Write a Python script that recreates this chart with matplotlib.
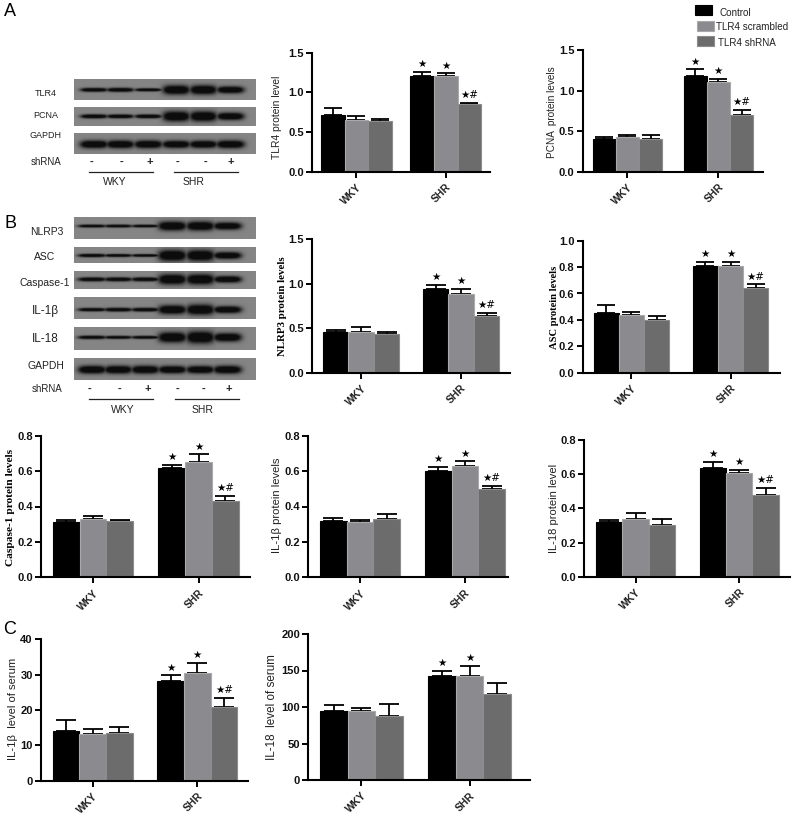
import numpy as np
import matplotlib
matplotlib.use('Agg')
import matplotlib.pyplot as plt
from matplotlib.lines import Line2D
from matplotlib.patches import Rectangle

W, H = 796, 815
plt.rcParams['font.family'] = ['Liberation Sans', 'DejaVu Sans']

groups = ['WKY', 'SHR']
series = ['Control', 'TLR4 scrambled', 'TLR4 shRNA']
colors = ['#000000', '#8b8b8f', '#6c6c6c']
edges = ['#000000', '#a9a9ab', '#8c8c8c']

# bar values, [WKY, SHR] x [control, scrambled, shRNA]
tlr4_vals = [[0.71, 0.65, 0.64], [1.21, 1.20, 0.85]]
tlr4_err = [[0.09, 0.05, 0.02], [0.05, 0.04, 0.02]]
pcna_vals = [[0.40, 0.43, 0.40], [1.18, 1.11, 0.70]]
pcna_err = [[0.03, 0.02, 0.05], [0.08, 0.03, 0.06]]
nlrp3_vals = [[0.46, 0.46, 0.43], [0.94, 0.88, 0.64]]
nlrp3_err = [[0.02, 0.05, 0.03], [0.05, 0.06, 0.03]]
asc_vals = [[0.45, 0.44, 0.40], [0.81, 0.81, 0.64]]
asc_err = [[0.06, 0.02, 0.03], [0.03, 0.03, 0.03]]
casp_vals = [[0.31, 0.33, 0.32], [0.62, 0.65, 0.43]]
casp_err = [[0.015, 0.015, 0.005], [0.015, 0.045, 0.03]]
il1b_vals = [[0.32, 0.31, 0.33], [0.60, 0.63, 0.50]]
il1b_err = [[0.015, 0.015, 0.03], [0.025, 0.025, 0.015]]
il18_vals = [[0.32, 0.335, 0.305], [0.635, 0.605, 0.48]]
il18_err = [[0.01, 0.035, 0.035], [0.035, 0.02, 0.04]]
il1b_serum_vals = [[14.2, 13.3, 13.4], [28.1, 30.4, 20.8]]
il1b_serum_err = [[3.0, 1.3, 1.8], [1.7, 2.9, 2.6]]
il18_serum_vals = [[94, 94, 88], [142, 143, 118]]
il18_serum_err = [[9, 5, 16], [7, 13, 15]]

marks = ['★', '★', '★#']
marks_short = ['★', '★', '']

# band strength per lane for the blots
blot_a = {'TLR4': [0.42, 0.44, 0.34, 1.0, 1.0, 0.75],
          'PCNA': [0.44, 0.42, 0.42, 1.1, 1.1, 0.80],
          'GAPDH': [0.85, 0.85, 0.85, 0.80, 0.80, 0.85]}
blot_b = {'NLRP3': [0.32, 0.32, 0.30, 1.0, 1.0, 0.80],
          'ASC': [0.36, 0.32, 0.30, 1.2, 1.2, 0.75],
          'Caspase-1': [0.42, 0.42, 0.42, 1.1, 1.1, 0.70],
          'IL-1β': [0.36, 0.40, 0.40, 0.95, 1.1, 0.75],
          'IL-18': [0.36, 0.32, 0.32, 1.1, 1.3, 0.90],
          'GAPDH': [0.85, 0.85, 0.85, 0.80, 0.80, 0.85]}
shrna_signs = ['-', '-', '+', '-', '-', '+']


def fx(px):
    return px / W


def fy(px):
    return 1 - px / H


def label(x, y, s, size=7, **kw):
    kw.setdefault('ha', 'center')
    kw.setdefault('va', 'center')
    return plt.figtext(fx(x), fy(y), s, fontsize=size, **kw)


def bar_panel(box, centers, bar_w, ymax, step, vals, errs, ylab, lab_xy, lab_size, stars, serif=False, fmt='%.1f'):
    left, right, top, bottom = box
    ax = fig.add_axes([fx(left), fy(bottom), fx(right - left), (bottom - top) / H])
    gap = (centers[1] - centers[0]) / bar_w
    for g in range(2):
        for i in range(3):
            x = g * gap + i - 1
            ax.bar(x, vals[g][i], width=1, color=colors[i], edgecolor=edges[i], linewidth=0.8, zorder=2)
            ax.errorbar(x, vals[g][i], yerr=[[0], [errs[g][i]]], color='black', lw=1.3, capsize=bar_w * 0.27,
                        capthick=1.3, zorder=1)
            if g == 1 and stars[i]:
                ax.annotate(stars[i], (x, vals[g][i] + errs[g][i]), xytext=(0, 2), textcoords='offset points',
                            ha='center', va='bottom', fontsize=7.5, family='DejaVu Sans', annotation_clip=False)
    ax.set_xlim((left - centers[0]) / bar_w, (right - centers[0]) / bar_w)
    ax.set_ylim(0, ymax)
    ax.set_xticks([0, gap])
    ax.set_xticklabels(groups, rotation=45, ha='right', rotation_mode='anchor', fontsize=7.5, fontweight='bold',
                       color='#222222')
    ticks = np.arange(0, ymax + step / 2, step)
    ax.set_yticks(ticks)
    ax.set_yticklabels([fmt % t for t in ticks], fontsize=8, fontweight='bold', color='#111111')
    ax.tick_params(axis='both', width=1.4, length=4.5, pad=1.5)
    ax.tick_params(axis='x', pad=3)
    for s in ['top', 'right']:
        ax.spines[s].set_visible(False)
    for s in ['left', 'bottom']:
        ax.spines[s].set_linewidth(1.5)
    if serif:
        ax.set_ylabel(ylab, family='Liberation Serif', fontweight='bold', fontsize=lab_size)
    else:
        ax.set_ylabel(ylab, fontsize=lab_size, color='#222222')
    # label coords give the right side of the rotated text, so push by half its height
    ax.yaxis.set_label_coords(fx(lab_xy[0] + 5), fy(lab_xy[1]), transform=fig.transFigure)
    return ax


def blot_strip(x0, x1, y0, y1, band_y, lanes, half_w, strengths, thick=4.5):
    ax = fig.add_axes([fx(x0), fy(y1), fx(x1 - x0), (y1 - y0) / H])
    xs = np.linspace(x0, x1, int((x1 - x0) * 2))
    ys = np.linspace(y0, y1, int((y1 - y0) * 2))
    xx, yy = np.meshgrid(xs, ys)
    ink = np.zeros_like(xx)
    for c, st in zip(lanes, strengths):
        h = thick * st
        ink = np.maximum(ink, np.exp(-((xx - c) / half_w) ** 4) * np.exp(-((yy - band_y) / h) ** 2))
    img = 0.52 - 0.47 * np.clip(ink * 1.5, 0, 1)
    ax.imshow(img, cmap='gray', vmin=0, vmax=1, aspect='auto', interpolation='bilinear')
    ax.axis('off')


fig = plt.figure(figsize=(W / 100, H / 100), dpi=100)

# blots A
lanes_a = [94, 120, 148, 176, 203, 230]
blot_strip(74, 255.3, 79.3, 100, 90, lanes_a, 13.5, blot_a['TLR4'])
blot_strip(74, 255.3, 107.3, 126, 116.5, lanes_a, 13.5, blot_a['PCNA'])
blot_strip(74, 255.3, 133.3, 154, 144.5, lanes_a, 14, blot_a['GAPDH'])
for name, y in [('TLR4', 93), ('PCNA', 115), ('GAPDH', 136)]:
    label(46, y, name, 6.5, color='#222222')
label(46, 162, 'shRNA', 7, color='#222222')
for x, s in zip([91, 121, 150, 178, 206, 231], shrna_signs):
    label(x, 162, s, 8, fontweight='bold', color='#222222')
fig.add_artist(Line2D([fx(89), fx(152.7)], [fy(171.7)] * 2, color='#222222', lw=0.9))
fig.add_artist(Line2D([fx(174.3), fx(238.3)], [fy(171.7)] * 2, color='#222222', lw=0.9))
label(115, 182, 'WKY', 7.5, color='#222222')
label(194, 182, 'SHR', 7.5, color='#222222')

# blots B
lanes_b = [92, 118, 145, 172, 200, 227]
blot_strip(74, 255.3, 217, 239, 226, lanes_b, 14, blot_b['NLRP3'])
blot_strip(74, 255.3, 246.7, 263.3, 256, lanes_b, 14, blot_b['ASC'])
blot_strip(74, 255.3, 271, 289.3, 280, lanes_b, 14, blot_b['Caspase-1'])
blot_strip(74, 255.3, 296.7, 319, 310, lanes_b, 14, blot_b['IL-1β'])
blot_strip(74, 255.3, 326.7, 350, 337.7, lanes_b, 14, blot_b['IL-18'])
blot_strip(74, 255.3, 357.7, 380, 370, lanes_b, 14, blot_b['GAPDH'])
for name, x, y, size in [('NLRP3', 46.7, 231.7, 7.5), ('ASC', 45, 257, 7.5), ('Caspase-1', 44.3, 283, 7.5),
                         ('IL-1β', 45, 311, 8.5), ('IL-18', 45, 339, 8.5), ('GAPDH', 45.7, 366, 7.5)]:
    label(x, y, name, size, color='#222222')
label(47, 389, 'shRNA', 7, color='#222222')
for x, s in zip([90, 120, 148, 177, 204, 229], shrna_signs):
    label(x, 389, s, 8, fontweight='bold', color='#222222')
fig.add_artist(Line2D([fx(89), fx(152.7)], [fy(399)] * 2, color='#222222', lw=0.9))
fig.add_artist(Line2D([fx(175), fx(239)], [fy(399)] * 2, color='#222222', lw=0.9))
label(123, 410, 'WKY', 7.5, color='#222222')
label(203, 410, 'SHR', 7.5, color='#222222')

# bar panels
bar_panel((312.3, 490, 52.7, 171.7), (356.4, 445.8), 23.6, 1.5, 0.5, tlr4_vals, tlr4_err,
          'TLR4 protein level', (277, 117), 7.4, marks)
bar_panel((582.7, 763.3, 50, 171.7), (627.3, 718.3), 23.2, 1.5, 0.5, pcna_vals, pcna_err,
          'PCNA  protein levels', (552, 112), 7.2, marks)
bar_panel((312.3, 510, 239.3, 372.7), (361, 461), 25.5, 1.5, 0.5, nlrp3_vals, nlrp3_err,
          'NLRP3 protein levels', (282, 306), 7.8, marks, serif=True)
bar_panel((582.7, 780, 240.7, 372.7), (631.3, 730.5), 25.2, 1.0, 0.2, asc_vals, asc_err,
          'ASC protein levels', (554, 307), 7.6, marks, serif=True)
bar_panel((41, 250, 435.7, 577.3), (93, 198.5), 26.8, 0.8, 0.2, casp_vals, casp_err,
          'Caspase-1 protein levels', (10, 507), 8.2, marks, serif=True)
bar_panel((308.3, 508, 435.7, 577.3), (360, 465), 26.7, 0.8, 0.2, il1b_vals, il1b_err,
          'IL-1β protein levels', (277, 505), 8.1, marks)
bar_panel((584.3, 790, 440, 576.7), (635.6, 739.3), 26.3, 0.8, 0.2, il18_vals, il18_err,
          'IL-18 protein level', (554, 508), 8, marks)
bar_panel((41, 248, 639.3, 780.7), (92.7, 197.3), 26.7, 40, 10, il1b_serum_vals, il1b_serum_err,
          'IL-1β  level of serum', (13, 709), 8.1, marks, fmt='%d')
bar_panel((308.3, 530, 634, 780), (361.3, 469.5), 27.5, 200, 50, il18_serum_vals, il18_serum_err,
          'IL-18  level of serum', (273, 707), 8.4, marks_short, fmt='%d')

# legend
leg_boxes = [(695, 5), (696.7, 20.7), (697, 36)]
leg_text = [(720, 12.7), (716, 27), (718, 42.7)]
for i, name in enumerate(series):
    bx, by = leg_boxes[i]
    fig.add_artist(Rectangle((fx(bx), fy(by + 10)), 17 / W, 10 / H, transform=fig.transFigure,
                             facecolor=colors[i], edgecolor=edges[i], lw=0.8))
    label(leg_text[i][0], leg_text[i][1], name, 7.1, ha='left', color='#222222')

# panel letters
label(10, 12, 'A', 13)
label(10, 224, 'B', 13)
label(10, 630, 'C', 13)

fig.savefig('out.png', dpi=100)
